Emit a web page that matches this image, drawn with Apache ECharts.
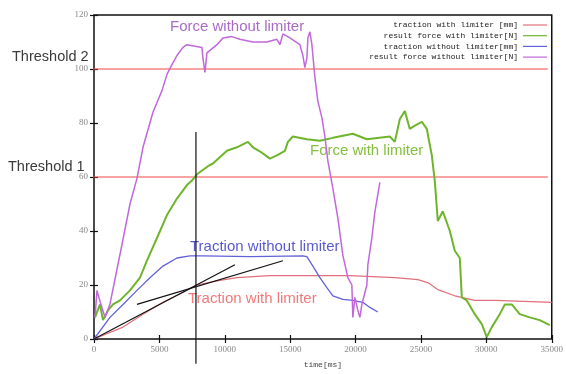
<!DOCTYPE html>
<html>
<head>
<meta charset="utf-8">
<script src="https://cdn.jsdelivr.net/npm/echarts@6/dist/echarts.min.js"></script>
<style>
  html, body { margin: 0; padding: 0; background: #fff; }
  #chart { width: 566px; height: 374px; }
</style>
</head>
<body>
<div id="chart"></div>
<script>
// values: [time ms, value]
const tractionWithLimiter = [
  [0, 0], [2216, 4.4], [3745, 9.2], [5273, 13.6], [6801, 17.2], [7871, 20],
  [9400, 21.5], [10928, 22.7], [13450, 23.5], [15743, 23.5], [19564, 23.5],
  [23002, 22.7], [24760, 22], [25524, 20.9], [26288, 18.3], [27588, 16],
  [29116, 14.3], [30645, 14.3], [35000, 13.6]
];
const forceWithLimiter = [
  [76, 8], [458, 12.8], [688, 7], [1070, 10.6], [1452, 12.8], [1987, 14.3],
  [2751, 18], [3515, 22.7], [4050, 29], [4814, 37.4], [5579, 45.9], [6343, 52],
  [7107, 57], [7489, 58.7], [7871, 61], [8712, 64], [9094, 65], [10164, 69.7],
  [10928, 71], [11769, 73], [12150, 71], [12839, 69], [13450, 66.8], [13985, 68],
  [14596, 69.7], [14825, 73], [15208, 75], [16277, 74], [17271, 73.4],
  [18264, 74.5], [19793, 76], [20863, 74], [22620, 75], [23002, 73],
  [23385, 81.5], [23767, 84.4], [24149, 77.8], [24531, 79], [25066, 80.4],
  [25448, 77.8], [25830, 68], [26059, 58.4], [26288, 43.7], [26671, 47.3],
  [27206, 40], [27588, 32.7], [27970, 30], [28122, 15.4], [28504, 14.3],
  [29116, 9.2], [29651, 5.5], [30033, 0.7], [30415, 4.4], [31027, 9.2],
  [31409, 12.8], [31944, 12.8], [32555, 9.2], [33319, 8], [34083, 7], [34847, 5.1]
];
const tractionWithoutLimiter = [
  [0, 0], [1223, 8], [2216, 12.8], [3286, 18], [4280, 22.7], [5273, 27],
  [6343, 30], [7336, 30.8], [8330, 30.8], [11920, 30.5], [15972, 30.8],
  [16277, 30.5], [16736, 27], [17271, 22.7], [17806, 19], [18264, 16],
  [19028, 14.7], [19793, 14.3], [20557, 13.6], [21092, 11.7], [21703, 10]
];
const forceWithoutLimiter = [
  [76, 8], [229, 18], [458, 14], [840, 8], [1223, 13], [2140, 35], [2751, 50],
  [3286, 59.5], [3745, 71], [4509, 84], [5197, 92], [5579, 98], [5961, 101.6],
  [6343, 105], [6801, 108], [7107, 109], [8253, 108], [8330, 104], [8483, 98.7],
  [8635, 106], [9400, 109], [9858, 111.5], [10546, 112], [11157, 111],
  [12150, 110], [13220, 110], [13985, 111], [14214, 109], [14443, 113],
  [14978, 111.5], [15743, 109], [15972, 105], [16124, 100.5], [16277, 104],
  [16354, 111.5], [16507, 113.8], [16660, 109], [16889, 97], [17118, 88],
  [17424, 82], [17653, 75], [17882, 66], [18264, 55.8], [18646, 44.8],
  [19028, 31], [19411, 22.7], [19716, 20], [19793, 8], [19946, 15.4],
  [20175, 10.6], [20328, 8], [20481, 12.8], [20863, 20], [20940, 27.5],
  [21244, 37.4], [21474, 47], [21856, 58]
];
const tangentSteep = [[0, 0], [10775, 27.5]];
const tangentFlat = [[3286, 12.8], [14443, 29]];
const markerLine = [[7795, 76.7], [7795, -9.2]];
const threshold2 = [[-2600, 100], [34700, 100]];
const threshold1 = [[-2600, 60], [34700, 60]];

const legendNames = [
  'traction with limiter [mm]',
  'result force with limiter[N]',
  'traction without limiter[mm]',
  'result force without limiter[N]'
];
const legendColors = ['#e0707c', '#6fb52c', '#6262d8', '#c068dc'];

const chart = echarts.init(document.getElementById('chart'));

const tickFont = { color: '#888', fontFamily: 'Liberation Serif', fontSize: 9, formatter: v => String(v) };

function legendFor(i) {
  return {
    data: [legendNames[i]],
    right: 19,
    top: 21 + i * 10.7,
    align: 'right',
    padding: 0,
    icon: 'rect',
    itemWidth: 24,
    itemHeight: 1.2,
    textStyle: { fontFamily: 'Liberation Mono', fontSize: 8, color: '#222' }
  };
}

function plain(name, data, color, width) {
  return {
    name: name,
    type: 'line',
    data: data,
    symbol: 'none',
    color: color,
    lineStyle: { color: color, width: width },
    clip: false,
    silent: true
  };
}

const option = {
  animation: false,
  grid: {
    left: 94, right: 14, top: 15, bottom: 32,
    show: true, borderColor: '#111', borderWidth: 1.5
  },
  legend: [0, 1, 2, 3].map(legendFor),
  xAxis: [
    {
      type: 'value', min: 0, max: 35000, interval: 5000,
      name: 'time[ms]', nameLocation: 'middle', nameGap: 22,
      nameTextStyle: { fontFamily: 'Liberation Mono', fontSize: 8, color: '#444' },
      axisLine: { show: false },
      axisTick: { inside: true, length: 4, lineStyle: { color: '#111', width: 1.2 } },
      axisLabel: Object.assign({ margin: 6 }, tickFont),
      splitLine: { show: false }
    },
    {
      type: 'value', position: 'top', min: 0, max: 35000, interval: 5000,
      axisLine: { show: false },
      axisTick: { inside: true, length: 4, lineStyle: { color: '#111', width: 1.2 } },
      axisLabel: { show: false },
      splitLine: { show: false }
    }
  ],
  yAxis: [
    {
      type: 'value', min: 0, max: 120, interval: 20,
      axisLine: { show: false },
      axisTick: { inside: true, length: 4, lineStyle: { color: '#111', width: 1.2 } },
      axisLabel: Object.assign({ margin: 6 }, tickFont),
      splitLine: { show: false }
    },
    {
      type: 'value', position: 'right', min: 0, max: 120, interval: 20,
      axisLine: { show: false },
      axisTick: { inside: true, length: 4, lineStyle: { color: '#111', width: 1.2 } },
      axisLabel: { show: false },
      splitLine: { show: false }
    }
  ],
  series: [
    plain('threshold 2', threshold2, '#f04848', 1),
    plain('threshold 1', threshold1, '#f04848', 1),
    plain(legendNames[0], tractionWithLimiter, legendColors[0], 1.2),
    plain(legendNames[1], forceWithLimiter, legendColors[1], 2),
    plain(legendNames[2], tractionWithoutLimiter, legendColors[2], 1.3),
    plain(legendNames[3], forceWithoutLimiter, legendColors[3], 1.5),
    plain('tangent steep', tangentSteep, '#111', 1.2),
    plain('tangent flat', tangentFlat, '#111', 1.2),
    plain('marker', markerLine, '#111', 1.2)
  ],
  graphic: [
    { type: 'text', left: 12, top: 49, style: { text: 'Threshold 2', fontSize: 14.5, fontFamily: 'Liberation Sans', fill: '#3a3a3a' } },
    { type: 'text', left: 8, top: 159, style: { text: 'Threshold 1', fontSize: 14.5, fontFamily: 'Liberation Sans', fill: '#3a3a3a' } },
    { type: 'text', left: 170, top: 19, style: { text: 'Force without limiter', fontSize: 15, fontFamily: 'Liberation Sans', fill: '#a86cc8' } },
    { type: 'text', left: 310, top: 143, style: { text: 'Force with limiter', fontSize: 15, fontFamily: 'Liberation Sans', fill: '#86c040' } },
    { type: 'text', left: 190, top: 239, style: { text: 'Traction without limiter', fontSize: 15, fontFamily: 'Liberation Sans', fill: '#5a5ad0' } },
    { type: 'text', left: 188, top: 291, style: { text: 'Traction with limiter', fontSize: 15, fontFamily: 'Liberation Sans', fill: '#f07a7a' } }
  ]
};

chart.setOption(option);
</script>
</body>
</html>
